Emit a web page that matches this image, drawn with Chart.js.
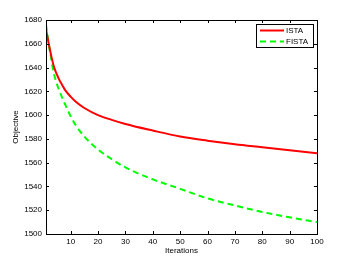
<!DOCTYPE html>
<html>
<head>
<meta charset="utf-8">
<script src="https://cdn.jsdelivr.net/npm/chart.js@4"></script>
<style>
  html, body { margin: 0; padding: 0; background: #fff; }
  #wrap { width: 350px; height: 264px; }
</style>
</head>
<body>
<div id="wrap"><canvas id="objChart" width="350" height="264"></canvas></div>
<script>
const iterations = [1, 2, 3, 4, 5, 6, 7, 8, 10, 12, 15, 20, 25, 30, 40, 50, 60, 70, 80, 90, 100];
const istaValues = [1672, 1660, 1649, 1640, 1634, 1629, 1625, 1621, 1615.5, 1611, 1606, 1600, 1596, 1592.5, 1587, 1582, 1578.5, 1575.5, 1573, 1570.5, 1568];
const fistaValues = [1676, 1660, 1646, 1634, 1626, 1620, 1614, 1609, 1599, 1591, 1582, 1571, 1563, 1556, 1546, 1538, 1530, 1524, 1518.5, 1514, 1510];
const xTicks = [10, 20, 30, 40, 50, 60, 70, 80, 90, 100];
const yTicks = [1500, 1520, 1540, 1560, 1580, 1600, 1620, 1640, 1660, 1680];

const FONT = 'Liberation Sans, Arial, sans-serif';

// box round the plot, inward tick marks and the legend, like matlab
const framePlugin = {
    id: 'frame',
    afterDraw(chart) {
        const { ctx, chartArea: a, scales } = chart;
        const x = scales.x, y = scales.y;
        ctx.save();
        ctx.strokeStyle = '#000';
        ctx.lineWidth = 1;
        ctx.strokeRect(Math.round(a.left) + 0.5, Math.round(a.top) + 0.5,
            Math.round(a.right - a.left), Math.round(a.bottom - a.top));
        ctx.beginPath();
        xTicks.forEach(v => {
            const px = Math.round(x.getPixelForValue(v)) + 0.5;
            ctx.moveTo(px, a.bottom); ctx.lineTo(px, a.bottom - 3);
            ctx.moveTo(px, a.top); ctx.lineTo(px, a.top + 3);
        });
        yTicks.forEach(v => {
            const py = Math.round(y.getPixelForValue(v)) + 0.5;
            ctx.moveTo(a.left, py); ctx.lineTo(a.left + 3, py);
            ctx.moveTo(a.right, py); ctx.lineTo(a.right - 3, py);
        });
        ctx.stroke();

        // legend box
        const lx = 256, ly = 24, lw = 57, lh = 23;
        ctx.fillStyle = '#fff';
        ctx.fillRect(lx, ly, lw, lh);
        ctx.strokeRect(lx + 0.5, ly + 0.5, lw, lh);
        ctx.font = '8px ' + FONT;
        ctx.textBaseline = 'middle';
        chart.data.datasets.forEach((ds, i) => {
            const cy = ly + 6.5 + i * 11;
            ctx.beginPath();
            ctx.strokeStyle = ds.borderColor;
            ctx.lineWidth = 2;
            ctx.setLineDash(ds.borderDash || []);
            ctx.moveTo(lx + 4, cy);
            ctx.lineTo(lx + 28, cy);
            ctx.stroke();
            ctx.setLineDash([]);
            ctx.fillStyle = '#000';
            ctx.fillText(ds.label, lx + 30, cy + 0.5);
        });
        ctx.restore();
    }
};

new Chart(document.getElementById('objChart'), {
    type: 'line',
    data: {
        datasets: [
            {
                label: 'ISTA',
                data: iterations.map((it, i) => ({ x: it, y: istaValues[i] })),
                borderColor: '#ff0000',
                borderWidth: 2,
                pointRadius: 0,
                cubicInterpolationMode: 'monotone',
                fill: false
            },
            {
                label: 'FISTA',
                data: iterations.map((it, i) => ({ x: it, y: fistaValues[i] })),
                borderColor: '#00ff00',
                borderWidth: 2,
                borderDash: [6, 4],
                pointRadius: 0,
                cubicInterpolationMode: 'monotone',
                fill: false
            }
        ]
    },
    options: {
        responsive: false,
        animation: false,
        layout: { padding: { top: 20, right: 33, left: 0, bottom: 0 } },
        plugins: {
            legend: { display: false },
            tooltip: { enabled: false }
        },
        scales: {
            x: {
                type: 'linear',
                min: 1,
                max: 100,
                afterBuildTicks: s => { s.ticks = xTicks.map(v => ({ value: v })); },
                afterFit: s => { s.height = 30; },
                grid: { display: false, drawTicks: false },
                border: { display: false },
                ticks: { color: '#000', font: { family: FONT, size: 8 }, padding: 3, maxRotation: 0, callback: v => String(v) },
                title: { display: true, text: 'Iterations', color: '#000', font: { family: FONT, size: 8 }, padding: { top: 0, bottom: 8 } }
            },
            y: {
                min: 1500,
                max: 1680,
                afterBuildTicks: s => { s.ticks = yTicks.map(v => ({ value: v })); },
                afterFit: s => { s.width = 46; },
                grid: { display: false, drawTicks: false },
                border: { display: false },
                ticks: { color: '#000', font: { family: FONT, size: 8 }, padding: 4, callback: v => String(v) },
                title: { display: true, text: 'Objective', color: '#000', font: { family: FONT, size: 8 }, padding: { top: 11, bottom: 0 } }
            }
        }
    },
    plugins: [framePlugin]
});
</script>
</body>
</html>
